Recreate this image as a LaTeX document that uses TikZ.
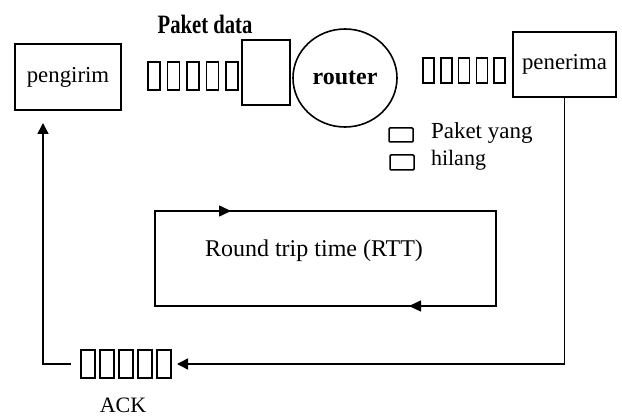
\documentclass[tikz,border=0pt]{standalone}
\usepackage{fontspec}
\setmainfont{Liberation Serif}
\newfontfamily\condserif[FakeStretch=0.78]{Liberation Serif}
\usetikzlibrary{arrows.meta,shapes.geometric,calc}
\begin{document}
\begin{tikzpicture}[x=1pt,y=-1pt,
  every node/.style={inner sep=0pt, outer sep=0pt},
  bigbox/.style={draw, line width=1.6pt, rectangle},
  pkt/.style={draw, line width=1.5pt, rectangle, minimum width=#1, minimum height=26pt},
  pkt/.default=12pt,
  lbl/.style={font=\fontsize{22.8}{26}\selectfont},
  conn/.style={line width=1.5pt, -{Triangle[width=11pt,length=11pt]}},
  legbox/.style={draw, line width=1.5pt, rectangle, minimum width=24pt, minimum height=14pt, rounded corners=1pt}]
\useasboundingbox (0,0) rectangle (622,417);
% main boxes
\node[bigbox, minimum width=106pt, minimum height=66pt, lbl] (sender) at (68,77) {pengirim};
\node[bigbox, minimum width=103pt, minimum height=65pt, lbl] (receiver) at (564.5,64.5) {\raisebox{-2pt}{penerima}};
\node[font=\condserif\bfseries\fontsize{26.5}{30}\selectfont] (pdata) at (205,24) {Paket data};
% left packets
\foreach \i/\x in {1/154,2/173.5,3/193,4/212.5,5/232}
  \node[pkt, minimum height=28pt] (lp\i) at (\x,76) {};
\node[bigbox, minimum width=48pt, minimum height=65pt] (buffer) at (266,72.5) {};
\node[draw, line width=1.6pt, ellipse, minimum width=104pt, minimum height=98pt,
      font=\bfseries\fontsize{24}{27}\selectfont] (router) at (345,78) {router};
% right packets
\foreach \i/\x in {1/428.5,2/446.25,3/464,4/481.75,5/499.5}
  \node[pkt=11pt, minimum height=25pt] (rp\i) at (\x,70.5) {};
% legend
\node[legbox] (leg1) at (401,135) {};
\node[legbox, minimum height=15pt] (leg2) at (402,162.5) {};
\node[font=\fontsize{23}{26}\selectfont, anchor=west] (legt1) at (431,133) {Paket yang};
\node[font=\fontsize{22}{25}\selectfont, anchor=west] (legt2) at (431,160) {hilang};
% RTT box
\node[draw, line width=1.5pt, rectangle, minimum width=341pt, minimum height=95pt] (rtt) at (325.5,258.5) {};
\node[font=\fontsize{24}{27}\selectfont] (rtttext) at (314,251) {Round trip time (RTT)};
\draw[line width=1.5pt, -{Triangle[width=11pt,length=12pt]}] (rtt.north west) -- ($(rtt.north west)+(76,0)$) coordinate (rtta);
\draw[line width=1.5pt, -{Triangle[width=11pt,length=12pt]}] (rtt.south east) -- ($(rtt.south east)+(-87,0)$) coordinate (rttb);
% ACK packets
\foreach \i/\x in {1/88,2/107,3/126,4/145,5/164}
  \node[pkt=14pt, minimum height=28pt] (ak\i) at (\x,364) {};
\node[font=\fontsize{22}{25}\selectfont] (ack) at (123,405) {ACK};
% connectors
\coordinate (senderin) at (43,123);
\draw[conn, shorten >=6pt] (receiver.south) |- (ak5.east);
\draw[conn, shorten <=10pt] (ak1.west) -| (senderin);
\end{tikzpicture}
\end{document}
